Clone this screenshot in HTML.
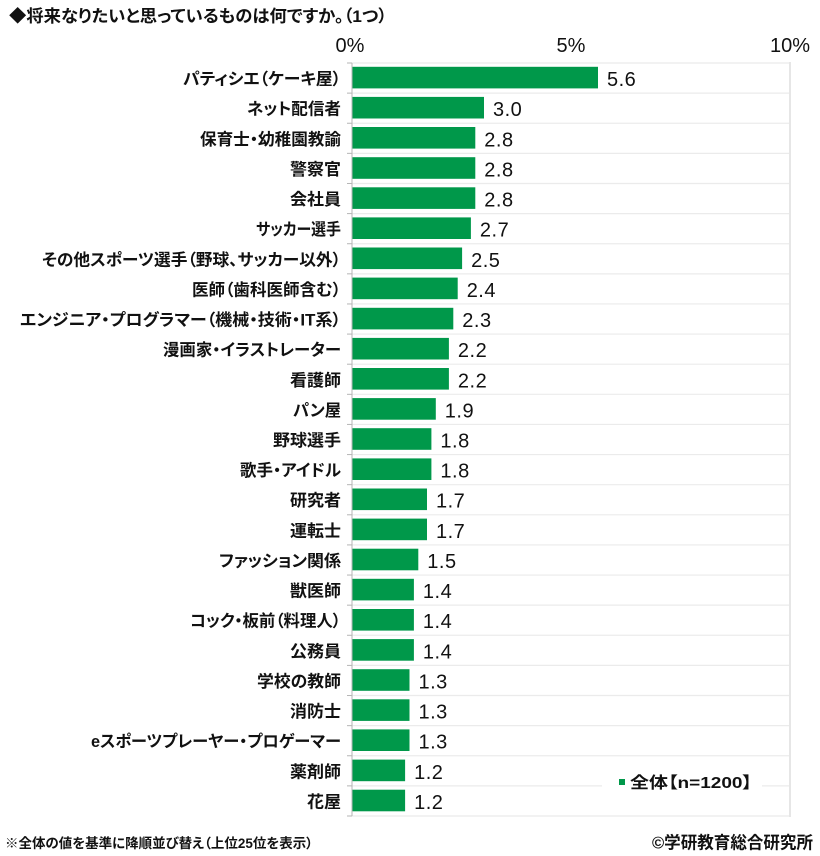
<!DOCTYPE html>
<html>
<head>
<meta charset="utf-8">
<style>
  html,body{margin:0;padding:0;background:#fff;}
  svg{display:block;}
  .jp{font-family:"Liberation Sans","Noto Sans CJK JP",sans-serif;font-feature-settings:"palt";fill:#111;}
  .cat{font-size:16.5px;font-weight:700;}
  .val{font-family:"Liberation Sans",sans-serif;font-size:20px;fill:#111;letter-spacing:0.5px;}
  .ax{font-family:"Liberation Sans",sans-serif;font-size:20px;fill:#111;}
</style>
</head>
<body>
<svg width="820" height="856" viewBox="0 0 820 856" xmlns="http://www.w3.org/2000/svg">
  <rect x="0" y="0" width="820" height="856" fill="#fff"/>

  <!-- title -->
  <text class="jp" x="9" y="22" font-size="17" font-weight="700" textLength="378" lengthAdjust="spacingAndGlyphs">◆将来なりたいと思っているものは何ですか。（1つ）</text>

  <!-- axis labels -->
  <text class="ax" x="350" y="52" text-anchor="middle">0%</text>
  <text class="ax" x="571" y="52" text-anchor="middle">5%</text>
  <text class="ax" x="790" y="52" text-anchor="middle">10%</text>

  <!-- gridlines (row boundaries) -->
  <g stroke="#ebebeb" stroke-width="1.2">
    <line x1="352" y1="63" x2="790" y2="63"/>
    <line x1="352" y1="93.12" x2="790" y2="93.12"/>
    <line x1="352" y1="123.24" x2="790" y2="123.24"/>
    <line x1="352" y1="153.36" x2="790" y2="153.36"/>
    <line x1="352" y1="183.48" x2="790" y2="183.48"/>
    <line x1="352" y1="213.6" x2="790" y2="213.6"/>
    <line x1="352" y1="243.72" x2="790" y2="243.72"/>
    <line x1="352" y1="273.84" x2="790" y2="273.84"/>
    <line x1="352" y1="303.96" x2="790" y2="303.96"/>
    <line x1="352" y1="334.08" x2="790" y2="334.08"/>
    <line x1="352" y1="364.2" x2="790" y2="364.2"/>
    <line x1="352" y1="394.32" x2="790" y2="394.32"/>
    <line x1="352" y1="424.44" x2="790" y2="424.44"/>
    <line x1="352" y1="454.56" x2="790" y2="454.56"/>
    <line x1="352" y1="484.68" x2="790" y2="484.68"/>
    <line x1="352" y1="514.8" x2="790" y2="514.8"/>
    <line x1="352" y1="544.92" x2="790" y2="544.92"/>
    <line x1="352" y1="575.04" x2="790" y2="575.04"/>
    <line x1="352" y1="605.16" x2="790" y2="605.16"/>
    <line x1="352" y1="635.28" x2="790" y2="635.28"/>
    <line x1="352" y1="665.4" x2="790" y2="665.4"/>
    <line x1="352" y1="695.52" x2="790" y2="695.52"/>
    <line x1="352" y1="725.64" x2="790" y2="725.64"/>
    <line x1="352" y1="755.76" x2="790" y2="755.76"/>
    <line x1="352" y1="785.88" x2="790" y2="785.88"/>
    <line x1="352" y1="816" x2="790" y2="816"/>
  </g>
  <line x1="790" y1="62" x2="790" y2="817" stroke="#e6e6e6" stroke-width="2"/>

  <!-- left axis with ticks -->
  <g stroke="#b5b5b5" stroke-width="1">
    <line x1="352" y1="63" x2="352" y2="816"/>
    <line x1="347" y1="63" x2="352" y2="63"/>
    <line x1="347" y1="93.12" x2="352" y2="93.12"/>
    <line x1="347" y1="123.24" x2="352" y2="123.24"/>
    <line x1="347" y1="153.36" x2="352" y2="153.36"/>
    <line x1="347" y1="183.48" x2="352" y2="183.48"/>
    <line x1="347" y1="213.6" x2="352" y2="213.6"/>
    <line x1="347" y1="243.72" x2="352" y2="243.72"/>
    <line x1="347" y1="273.84" x2="352" y2="273.84"/>
    <line x1="347" y1="303.96" x2="352" y2="303.96"/>
    <line x1="347" y1="334.08" x2="352" y2="334.08"/>
    <line x1="347" y1="364.2" x2="352" y2="364.2"/>
    <line x1="347" y1="394.32" x2="352" y2="394.32"/>
    <line x1="347" y1="424.44" x2="352" y2="424.44"/>
    <line x1="347" y1="454.56" x2="352" y2="454.56"/>
    <line x1="347" y1="484.68" x2="352" y2="484.68"/>
    <line x1="347" y1="514.8" x2="352" y2="514.8"/>
    <line x1="347" y1="544.92" x2="352" y2="544.92"/>
    <line x1="347" y1="575.04" x2="352" y2="575.04"/>
    <line x1="347" y1="605.16" x2="352" y2="605.16"/>
    <line x1="347" y1="635.28" x2="352" y2="635.28"/>
    <line x1="347" y1="665.4" x2="352" y2="665.4"/>
    <line x1="347" y1="695.52" x2="352" y2="695.52"/>
    <line x1="347" y1="725.64" x2="352" y2="725.64"/>
    <line x1="347" y1="755.76" x2="352" y2="755.76"/>
    <line x1="347" y1="785.88" x2="352" y2="785.88"/>
    <line x1="347" y1="816" x2="352" y2="816"/>
  </g>

  <!-- bars -->
  <g fill="#00984a">
    <rect x="352.5" y="66.8" width="245.5" height="21.6"/>
    <rect x="352.5" y="96.9" width="131.5" height="21.6"/>
    <rect x="352.5" y="127.0" width="122.8" height="21.6"/>
    <rect x="352.5" y="157.2" width="122.8" height="21.6"/>
    <rect x="352.5" y="187.3" width="122.8" height="21.6"/>
    <rect x="352.5" y="217.4" width="118.4" height="21.6"/>
    <rect x="352.5" y="247.5" width="109.6" height="21.6"/>
    <rect x="352.5" y="277.6" width="105.2" height="21.6"/>
    <rect x="352.5" y="307.8" width="100.8" height="21.6"/>
    <rect x="352.5" y="337.9" width="96.4" height="21.6"/>
    <rect x="352.5" y="368.0" width="96.4" height="21.6"/>
    <rect x="352.5" y="398.1" width="83.3" height="21.6"/>
    <rect x="352.5" y="428.2" width="78.9" height="21.6"/>
    <rect x="352.5" y="458.4" width="78.9" height="21.6"/>
    <rect x="352.5" y="488.5" width="74.5" height="21.6"/>
    <rect x="352.5" y="518.6" width="74.5" height="21.6"/>
    <rect x="352.5" y="548.7" width="65.8" height="21.6"/>
    <rect x="352.5" y="578.8" width="61.4" height="21.6"/>
    <rect x="352.5" y="609.0" width="61.4" height="21.6"/>
    <rect x="352.5" y="639.1" width="61.4" height="21.6"/>
    <rect x="352.5" y="669.2" width="57.0" height="21.6"/>
    <rect x="352.5" y="699.3" width="57.0" height="21.6"/>
    <rect x="352.5" y="729.4" width="57.0" height="21.6"/>
    <rect x="352.5" y="759.6" width="52.6" height="21.6"/>
    <rect x="352.5" y="789.7" width="52.6" height="21.6"/>
  </g>

  <!-- value labels -->
  <g class="val">
    <text x="607" y="86.1">5.6</text>
    <text x="493" y="116.2">3.0</text>
    <text x="484.3" y="146.3">2.8</text>
    <text x="484.3" y="176.4">2.8</text>
    <text x="484.3" y="206.5">2.8</text>
    <text x="479.9" y="236.7">2.7</text>
    <text x="471.1" y="266.8">2.5</text>
    <text x="466.7" y="296.9">2.4</text>
    <text x="462.3" y="327.0">2.3</text>
    <text x="457.9" y="357.1">2.2</text>
    <text x="457.9" y="387.3">2.2</text>
    <text x="444.8" y="417.4">1.9</text>
    <text x="440.4" y="447.5">1.8</text>
    <text x="440.4" y="477.6">1.8</text>
    <text x="436" y="507.7">1.7</text>
    <text x="436" y="537.9">1.7</text>
    <text x="427.3" y="568.0">1.5</text>
    <text x="422.9" y="598.1">1.4</text>
    <text x="422.9" y="628.2">1.4</text>
    <text x="422.9" y="658.3">1.4</text>
    <text x="418.5" y="688.5">1.3</text>
    <text x="418.5" y="718.6">1.3</text>
    <text x="418.5" y="748.7">1.3</text>
    <text x="414.1" y="778.8">1.2</text>
    <text x="414.1" y="808.9">1.2</text>
  </g>

  <!-- category labels -->
  <g class="jp cat" text-anchor="end">
    <text x="341" y="84.6" textLength="158" lengthAdjust="spacingAndGlyphs">パティシエ（ケーキ屋）</text>
    <text x="341" y="114.7" textLength="94" lengthAdjust="spacingAndGlyphs">ネット配信者</text>
    <text x="341" y="144.8" textLength="141" lengthAdjust="spacingAndGlyphs">保育士・幼稚園教諭</text>
    <text x="341" y="174.9" textLength="51" lengthAdjust="spacingAndGlyphs">警察官</text>
    <text x="341" y="205.0" textLength="51" lengthAdjust="spacingAndGlyphs">会社員</text>
    <text x="341" y="235.2" textLength="85" lengthAdjust="spacingAndGlyphs">サッカー選手</text>
    <text x="341" y="265.3" textLength="299" lengthAdjust="spacingAndGlyphs">その他スポーツ選手（野球、サッカー以外）</text>
    <text x="341" y="295.4" textLength="149" lengthAdjust="spacingAndGlyphs">医師（歯科医師含む）</text>
    <text x="341" y="325.5" textLength="321" lengthAdjust="spacingAndGlyphs">エンジニア・プログラマー（機械・技術・IT系）</text>
    <text x="341" y="355.6" textLength="178" lengthAdjust="spacingAndGlyphs">漫画家・イラストレーター</text>
    <text x="341" y="385.8" textLength="51" lengthAdjust="spacingAndGlyphs">看護師</text>
    <text x="341" y="415.9" textLength="48" lengthAdjust="spacingAndGlyphs">パン屋</text>
    <text x="341" y="446.0" textLength="68" lengthAdjust="spacingAndGlyphs">野球選手</text>
    <text x="341" y="476.1" textLength="101" lengthAdjust="spacingAndGlyphs">歌手・アイドル</text>
    <text x="341" y="506.2" textLength="51" lengthAdjust="spacingAndGlyphs">研究者</text>
    <text x="341" y="536.4" textLength="51" lengthAdjust="spacingAndGlyphs">運転士</text>
    <text x="341" y="566.5" textLength="122" lengthAdjust="spacingAndGlyphs">ファッション関係</text>
    <text x="341" y="596.6" textLength="51" lengthAdjust="spacingAndGlyphs">獣医師</text>
    <text x="341" y="626.7" textLength="151" lengthAdjust="spacingAndGlyphs">コック・板前（料理人）</text>
    <text x="341" y="656.8" textLength="51" lengthAdjust="spacingAndGlyphs">公務員</text>
    <text x="341" y="687.0" textLength="84" lengthAdjust="spacingAndGlyphs">学校の教師</text>
    <text x="341" y="717.1" textLength="51" lengthAdjust="spacingAndGlyphs">消防士</text>
    <text x="341" y="747.2" textLength="250" lengthAdjust="spacingAndGlyphs">eスポーツプレーヤー・プロゲーマー</text>
    <text x="341" y="777.3" textLength="51" lengthAdjust="spacingAndGlyphs">薬剤師</text>
    <text x="341" y="807.4" textLength="34" lengthAdjust="spacingAndGlyphs">花屋</text>
  </g>

  <!-- legend -->
  <rect x="602" y="766" width="160" height="34" fill="#fff"/>
  <rect x="619" y="779" width="6" height="6" fill="#00984a"/>
  <text class="jp" x="630" y="788" font-size="16" font-weight="700" textLength="122" lengthAdjust="spacingAndGlyphs">全体【n=1200】</text>

  <!-- footer -->
  <text class="jp" x="5" y="848" font-size="13.5" font-weight="700" textLength="308" lengthAdjust="spacingAndGlyphs">※全体の値を基準に降順並び替え（上位25位を表示）</text>
  <text class="jp" x="652" y="848.5" font-size="17" font-weight="700" textLength="161" lengthAdjust="spacingAndGlyphs">©学研教育総合研究所</text>
</svg>
</body>
</html>
